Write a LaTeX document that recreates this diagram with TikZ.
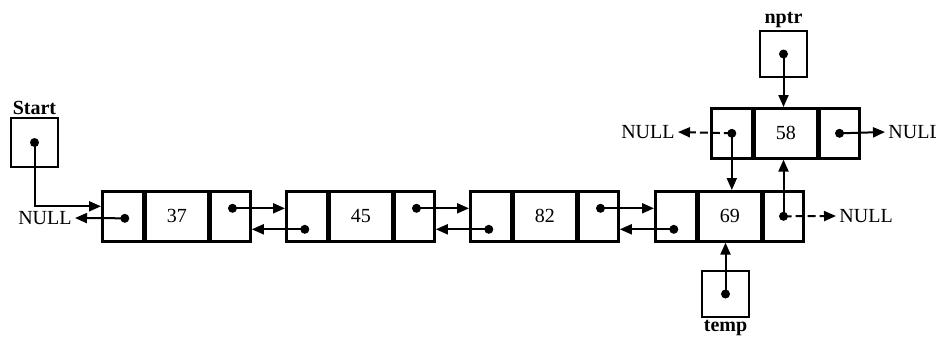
\documentclass[tikz,border=0pt]{standalone}
\usepackage{fontspec}
\setmainfont{Liberation Serif}
\usetikzlibrary{arrows.meta}

\begin{document}
\begin{tikzpicture}[x=0.5pt,y=-0.5pt,>={Triangle[length=6pt,width=5pt]},
  cell/.style={draw,line width=1.3pt,minimum height=25pt,inner sep=0pt},
  dot/.style={circle,fill,inner sep=0pt,minimum size=4.5pt},
  nul/.style={inner sep=1.5pt},
  lbl/.style={font=\bfseries,inner sep=1pt},
  link/.style={->,line width=1pt},
  nolink/.style={link,dash pattern=on 4pt off 2pt}]
  \useasboundingbox (0,0) rectangle (936,339);

  % the list
  \foreach \v/\x in {37/101,45/285,82/469,69/654}{
    \node[cell,minimum width=20.5pt,anchor=north west] (prev\v) at (\x,190) {};
    \node[cell,minimum width=31pt,anchor=west] (data\v) at (prev\v.east) {\v};
    \node[cell,minimum width=20pt,anchor=west] (next\v) at (data\v.east) {};
  }
  % new node
  \node[cell,minimum width=20.5pt,anchor=north west] (prev58) at (710,107) {};
  \node[cell,minimum width=31pt,anchor=west] (data58) at (prev58.east) {58};
  \node[cell,minimum width=20pt,anchor=west] (next58) at (data58.east) {};

  % pointers
  \node[cell,minimum width=23.5pt,minimum height=24.5pt] (start) at (34.5,142.5) {};
  \node[lbl,above] (startlbl) at (start.north) {Start};
  \node[cell,minimum width=23.5pt,minimum height=23pt] (nptr) at (783.5,54) {};
  \node[lbl,above] (nptrlbl) at (nptr.north) {nptr};
  \node[cell,minimum width=23.5pt,minimum height=23pt] (temp) at (725.5,294) {};
  \node[lbl,below] (templbl) at (temp.south) {temp};

  % dots
  \node[dot] (startdot) at (start.center) {};
  \node[dot] (nptrdot) at (nptr.center) {};
  \node[dot] (tempdot) at (temp.center) {};
  \node[dot] (pd37) at ([xshift=1pt,yshift=-1pt]prev37.center) {};
  \foreach \v in {45,82,69}
    \node[dot] (pd\v) at ([xshift=-1pt,yshift=-6.5pt]prev\v.center) {};
  \foreach \v in {37,45,82}
    \node[dot] (nd\v) at ([xshift=1pt,yshift=4pt]next\v.center) {};
  \node[dot] (nd69) at (next69.center) {};
  \node[dot] (pd58) at (prev58.center) {};
  \node[dot] (nd58) at (next58.center) {};

  % NULL ends
  \node[nul,anchor=east] (null37) at (75,218) {NULL};
  \node[nul,anchor=east] (null58a) at (678,132) {NULL};
  \node[nul,anchor=west] (null58b) at (885,132) {NULL};
  \node[nul,anchor=west] (null69) at (836,216) {NULL};

  % links
  \draw[link] (startdot.center) |- ([yshift=5pt]prev37.west);
  \draw[link] (pd37.center) -- (null37.east);
  \foreach \a/\b in {37/45,45/82,82/69}
    \draw[link] (nd\a.center) -- (nd\a -| prev\b.west);
  \foreach \a/\b in {45/37,82/45,69/82}
    \draw[link] (pd\a.center) -- (pd\a -| next\b.east);
  \draw[link] (nptrdot.center) -- (nptrdot |- data58.north);
  \draw[link] (tempdot.center) -- (tempdot |- data69.south);
  \draw[link] (pd58.center) -- (pd58 |- data69.north);
  \draw[link] (nd69.center) -- (nd69 |- data58.south);
  \draw[nolink] (pd58.center) -- (null58a.east);
  \draw[link] (nd58.center) -- (null58b.west);
  \draw[nolink] (nd69.center) -- (null69.west);
\end{tikzpicture}
\end{document}
